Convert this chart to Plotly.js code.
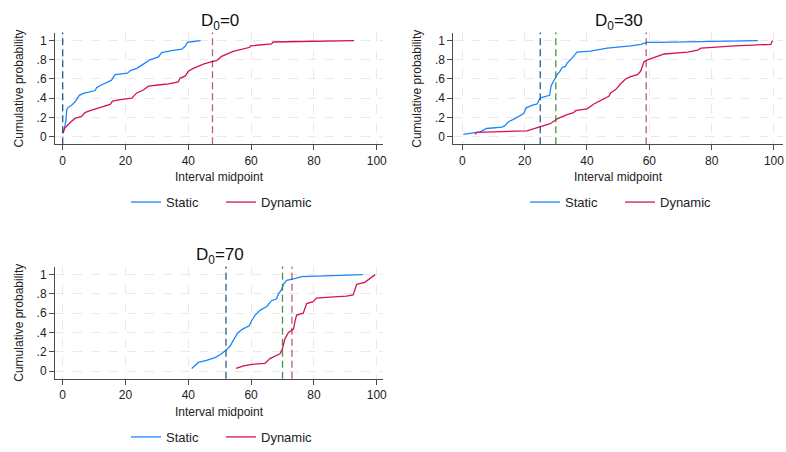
<!DOCTYPE html>
<html>
<head>
<meta charset="utf-8">
<script src="https://cdn.plot.ly/plotly-3.0.1.min.js"></script>
<style>html,body{margin:0;padding:0;background:#fff;}#chart{width:786px;height:452px;}</style>
</head>
<body>
<div id="chart"></div>
<script>
// ---------- data ----------
var panelTitles = ["D<sub>0</sub>=0", "D<sub>0</sub>=30", "D<sub>0</sub>=70"];
var seriesNames = ["Static", "Dynamic"];
var xTickVals = [0, 20, 40, 60, 80, 100];
var yTickVals = [0, 0.2, 0.4, 0.6, 0.8, 1];
var yTickText = ["0", ".2", ".4", ".6", ".8", "1"];

// Panel D0=0
var p1StaticX = [0.2, 0.7, 1.0, 1.3, 1.6, 2.9, 3.9, 4.7, 5.3, 6.6, 8.7, 10.3, 10.8, 12.4, 14.5, 15.6, 16.7, 18.3, 20.6, 21.7, 23.6, 25.7, 27.8, 30.5, 31.5, 34.7, 37.9, 39.0, 39.7, 41.6, 43.9];
var p1StaticY = [0.04, 0.13, 0.16, 0.28, 0.30, 0.33, 0.36, 0.40, 0.43, 0.45, 0.465, 0.48, 0.51, 0.54, 0.57, 0.59, 0.645, 0.65, 0.66, 0.69, 0.71, 0.755, 0.80, 0.83, 0.875, 0.895, 0.91, 0.94, 0.98, 0.99, 1.0];
var p1DynamicX = [0.0, 0.7, 2.3, 3.9, 6.0, 7.1, 8.7, 11.4, 15.1, 15.9, 18.3, 22.0, 23.6, 25.7, 27.3, 31.0, 33.7, 36.8, 37.4, 39.0, 40.0, 41.6, 43.7, 44.8, 46.9, 49.0, 50.6, 54.3, 59.6, 59.8, 66.5, 67.0, 75.6, 92.8];
var p1DynamicY = [0.035, 0.09, 0.145, 0.19, 0.21, 0.25, 0.27, 0.30, 0.335, 0.37, 0.385, 0.40, 0.455, 0.485, 0.525, 0.54, 0.55, 0.57, 0.61, 0.63, 0.68, 0.71, 0.74, 0.755, 0.775, 0.79, 0.835, 0.887, 0.93, 0.945, 0.966, 0.985, 0.99, 1.0];

// Panel D0=30
var p2StaticX = [0.3, 4.6, 5.7, 7.8, 12.7, 13.7, 14.8, 16.4, 19.7, 20.5, 22.3, 24.0, 24.8, 25.6, 28.0, 28.5, 29.3, 30.4, 31.3, 32.0, 33.1, 33.6, 35.2, 36.8, 41.1, 46.5, 54.0, 57.3, 59.2, 62.6, 94.8];
var p2StaticY = [0.024, 0.04, 0.05, 0.085, 0.10, 0.115, 0.155, 0.18, 0.24, 0.30, 0.325, 0.34, 0.395, 0.41, 0.43, 0.53, 0.58, 0.645, 0.68, 0.72, 0.73, 0.765, 0.817, 0.88, 0.89, 0.92, 0.945, 0.96, 0.98, 0.98, 1.0];
var p2DynamicX = [4.1, 4.6, 20.7, 25.0, 28.2, 29.8, 30.4, 33.6, 35.7, 36.3, 40.0, 42.2, 44.4, 47.0, 47.6, 49.2, 50.8, 52.4, 54.0, 56.2, 57.2, 58.3, 59.4, 62.1, 63.5, 64.8, 72.3, 75.5, 76.6, 87.4, 99.0, 99.5];
var p2DynamicY = [0.024, 0.045, 0.06, 0.10, 0.135, 0.17, 0.185, 0.23, 0.25, 0.27, 0.29, 0.34, 0.38, 0.42, 0.455, 0.49, 0.55, 0.60, 0.625, 0.645, 0.68, 0.78, 0.80, 0.83, 0.85, 0.86, 0.88, 0.90, 0.92, 0.945, 0.96, 1.0];

// Panel D0=70
var p3StaticX = [41.1, 42.1, 43.2, 45.8, 48.5, 50.1, 52.2, 53.3, 54.9, 55.6, 57.0, 58.6, 59.4, 60.2, 61.3, 62.8, 65.0, 66.5, 68.1, 68.7, 69.7, 70.3, 71.3, 73.5, 76.1, 81.0, 95.5];
var p3StaticY = [0.028, 0.055, 0.09, 0.11, 0.14, 0.17, 0.22, 0.26, 0.355, 0.39, 0.43, 0.46, 0.47, 0.525, 0.58, 0.63, 0.67, 0.73, 0.75, 0.80, 0.845, 0.90, 0.94, 0.955, 0.98, 0.985, 1.0];
var p3DynamicX = [55.2, 57.6, 60.2, 64.4, 66.0, 68.1, 69.2, 70.0, 70.8, 71.9, 73.5, 74.0, 74.5, 76.6, 77.7, 79.8, 80.8, 85.1, 90.4, 92.5, 93.0, 93.6, 96.2, 99.5];
var p3DynamicY = [0.028, 0.055, 0.07, 0.08, 0.13, 0.158, 0.18, 0.235, 0.337, 0.40, 0.434, 0.52, 0.58, 0.60, 0.70, 0.72, 0.757, 0.767, 0.777, 0.79, 0.835, 0.90, 0.92, 1.0];

// Vertical reference lines (x values) per panel
var p1RefX = [0, 47.7];
var p1RefColor = ["navy", "maroon"];
var p2RefX = [25, 30, 59];
var p2RefColor = ["navy", "green", "maroon"];
var p3RefX = [52, 70, 73];
var p3RefColor = ["navy", "green", "maroon"];

// ---------- styling ----------
var W = 786, H = 452;
var FONT = "Liberation Sans, Arial, Helvetica, sans-serif";
var cStatic = "#1a85ff", cDynamic = "#d41159";
var refColors = {navy: "rgba(26,71,111,0.9)", green: "rgba(44,140,44,0.9)", maroon: "rgba(128,0,0,0.6)"};

// panel boxes in pixels: [left, right, top, bottom]
var boxes = [[55, 383, 32.7, 145], [453.3, 783.3, 32.7, 145], [55, 383, 267.8, 380.5]];
var xRanges = [[-2.45, 102], [-2.9, 103], [-2.45, 102]];
var yRange = [-0.08, 1.083];

function xd(b) { return [b[0] / W, b[1] / W]; }
function yd(b) { return [1 - b[3] / H, 1 - b[2] / H]; }

var baseAxis = {
  showline: true, linecolor: "#4a4a4a", linewidth: 1,
  ticks: "outside", ticklen: 5, tickcolor: "#4a4a4a", tickwidth: 1,
  showgrid: true, gridcolor: "#e9e9e9", gridwidth: 1, griddash: "dash",
  zeroline: false, tickfont: {family: FONT, size: 12, color: "#222"},
  fixedrange: true
};
function ax(extra) { return Object.assign({}, baseAxis, extra); }

var panels = [
  {sx: p1StaticX, sy: p1StaticY, dx: p1DynamicX, dy: p1DynamicY, ref: p1RefX, rc: p1RefColor},
  {sx: p2StaticX, sy: p2StaticY, dx: p2DynamicX, dy: p2DynamicY, ref: p2RefX, rc: p2RefColor},
  {sx: p3StaticX, sy: p3StaticY, dx: p3DynamicX, dy: p3DynamicY, ref: p3RefX, rc: p3RefColor}
];

var traces = [], shapes = [], annotations = [];
var layout = {
  width: W, height: H, margin: {l: 0, r: 0, t: 0, b: 0},
  paper_bgcolor: "#fff", plot_bgcolor: "#fff",
  font: {family: FONT, color: "#222"}
};
var legendY = [203, 203, 439];
var legendX = [221, 620, 221];

panels.forEach(function (p, i) {
  var n = i === 0 ? "" : String(i + 1);
  var b = boxes[i];
  var legName = "legend" + n;
  traces.push({x: p.sx, y: p.sy, type: "scatter", mode: "lines", name: seriesNames[0],
    xaxis: "x" + n, yaxis: "y" + n, legend: legName, line: {color: cStatic, width: 1.3}, hoverinfo: "skip"});
  traces.push({x: p.dx, y: p.dy, type: "scatter", mode: "lines", name: seriesNames[1],
    xaxis: "x" + n, yaxis: "y" + n, legend: legName, line: {color: cDynamic, width: 1.3}, hoverinfo: "skip"});
  layout["xaxis" + n] = ax({domain: xd(b), range: xRanges[i], tickvals: xTickVals, anchor: "y" + n});
  layout["yaxis" + n] = ax({domain: yd(b), range: yRange, tickvals: yTickVals, ticktext: yTickText, anchor: "x" + n});
  p.ref.forEach(function (v, k) {
    shapes.push({type: "line", xref: "x" + n, yref: "y" + n + " domain", x0: v, x1: v, y0: 0, y1: 1,
      line: {color: refColors[p.rc[k]], width: 1.3, dash: "7px,4px"}, layer: "above"});
  });
  var cx = (b[0] + b[1]) / 2;
  annotations.push({text: panelTitles[i], xref: "paper", yref: "paper", x: (cx + 0.5) / W, y: 1 - (b[2] - 10.5) / H,
    xanchor: "center", yanchor: "middle", showarrow: false, font: {family: FONT, size: 17, color: "#111"}});
  annotations.push({text: "Interval midpoint", xref: "paper", yref: "paper", x: cx / W, y: 1 - (b[3] + 33) / H,
    xanchor: "center", yanchor: "middle", showarrow: false, font: {family: FONT, size: 12, color: "#222"}});
  annotations.push({text: "Cumulative probability", xref: "paper", yref: "paper", x: (b[0] - 36) / W, y: 1 - ((b[2] + b[3]) / 2) / H,
    xanchor: "center", yanchor: "middle", textangle: -90, showarrow: false, font: {family: FONT, size: 12, color: "#222"}});
  layout[legName] = {x: legendX[i] / W, y: 1 - legendY[i] / H, xanchor: "center", yanchor: "middle",
    orientation: "h", font: {family: FONT, size: 13, color: "#222"}, itemwidth: 30, entrywidth: 50,
    bgcolor: "rgba(0,0,0,0)", borderwidth: 0, traceorder: "normal"};
});
layout.shapes = shapes;
layout.annotations = annotations;

Plotly.newPlot("chart", traces, layout, {displayModeBar: false, staticPlot: true});
</script>
</body>
</html>
